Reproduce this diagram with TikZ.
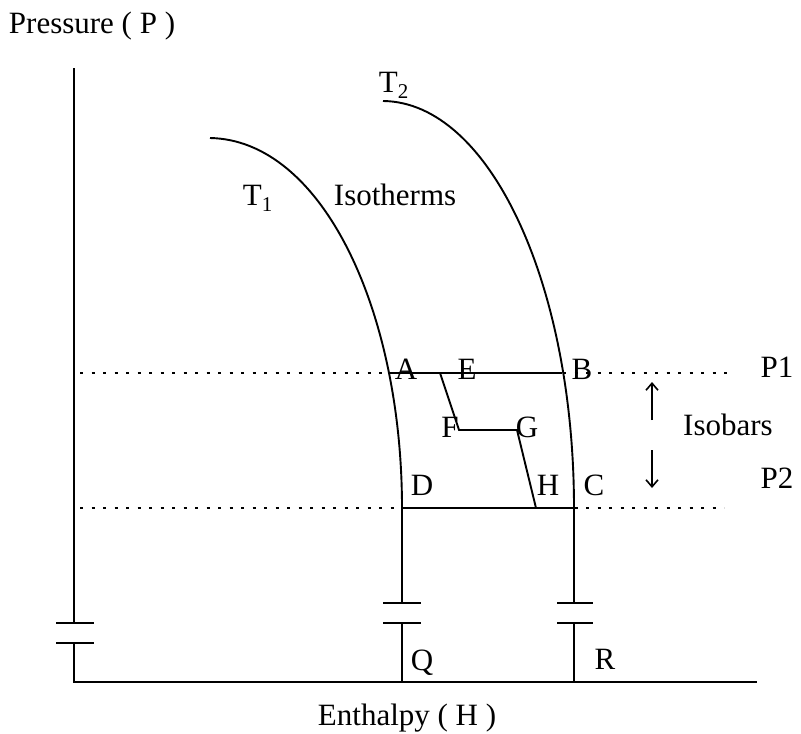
\documentclass[tikz,border=0pt]{standalone}
\usepackage{fontspec}
\setmainfont{Liberation Serif}
\usetikzlibrary{arrows.meta}
\begin{document}
\begin{tikzpicture}[x=1pt,y=-1pt,line width=1.9pt,
  lbl/.style={font=\fontsize{31}{34}\selectfont, inner sep=0pt, anchor=base},
  lblw/.style={font=\fontsize{31}{34}\selectfont, inner sep=0pt, anchor=base west},
  dots/.style={line width=1.9pt, dash pattern=on 3pt off 8.5pt},
  barline/.style={line width=1.9pt},
  arr/.style={-{Straight Barb[length=7pt,width=12pt,line width=1.6pt]}, line width=1.8pt}]
\useasboundingbox (0,0) rectangle (801,734);
% axis coordinates
\coordinate (Ytop) at (74,68);
\coordinate (Yb1) at (74,623);
\coordinate (Yb2) at (74,643);
\coordinate (O) at (74,682);
\coordinate (Xend) at (757,682);
% isotherm T1
\coordinate (T1s) at (210,138);
\coordinate (A) at (388,373);
\coordinate (D) at (402,508);
\coordinate (Qb1) at (402,603);
\coordinate (Qb2) at (402,623);
\coordinate (Q0) at (402,682);
% isotherm T2
\coordinate (T2s) at (383,101);
\coordinate (B) at (562,373);
\coordinate (C) at (574,508);
\coordinate (Rb1) at (574,603);
\coordinate (Rb2) at (574,623);
\coordinate (R0) at (574,682);
% path points
\coordinate (E) at (440,373);
\coordinate (F) at (459,430);
\coordinate (G) at (517,430);
\coordinate (H) at (536,508);
% isobar ends
\coordinate (P1s) at (80,373);
\coordinate (P1e) at (730,373);
\coordinate (P2s) at (80,508);
\coordinate (P2e) at (724,508);
% arrows
\coordinate (Au1) at (652,420);
\coordinate (Au2) at (652,382);
\coordinate (Ad1) at (652,450);
\coordinate (Ad2) at (652,488);

% axes
\draw (Ytop) -- (Yb1);
\draw (Yb2) -- (O) -- (Xend);
\draw[barline] ([xshift=-18pt]Yb1) -- ([xshift=20pt]Yb1);
\draw[barline] ([xshift=-18pt]Yb2) -- ([xshift=20pt]Yb2);

% isobars (dotted)
\draw[dots] (P1s) -- (P1e);
\draw[dots] (P2s) -- (P2e);

% isotherms
\draw (T1s) .. controls (322,140) and (402,310) .. (D) -- (Qb1);
\draw (Qb2) -- (Q0);
\draw[barline] ([xshift=-19pt]Qb1) -- ([xshift=19pt]Qb1);
\draw[barline] ([xshift=-19pt]Qb2) -- ([xshift=19pt]Qb2);
\draw (T2s) .. controls (490,102) and (574,285) .. (C) -- (Rb1);
\draw (Rb2) -- (R0);
\draw[barline] ([xshift=-17pt]Rb1) -- ([xshift=19pt]Rb1);
\draw[barline] ([xshift=-17pt]Rb2) -- ([xshift=19pt]Rb2);

% solid isobar segments and path
\draw (A) -- (B);
\draw (D) -- (C);
\draw (E) -- (F) -- (G) -- (H);

% arrows
\draw[arr] (Au1) -- (Au2);
\draw[arr] (Ad1) -- (Ad2);

% labels
\node[lblw] (lP) at (8,33) {Pressure ( P )};
\node[lblw] (lH) at (317,725) {Enthalpy ( H )};
\node[lblw] (lT2) at (378,92) {T\raisebox{-0.45ex}{\fontsize{21}{21}\selectfont 2}};
\node[lblw] (lT1) at (242,205) {T\raisebox{-0.45ex}{\fontsize{21}{21}\selectfont 1}};
\node[lblw] (lIso) at (333,205) {Isotherms};
\node[lbl] (lA) at (406,379) {A};
\node[lbl] (lE) at (467,379) {E};
\node[lbl] (lB) at (582,379) {B};
\node[lbl] (lF) at (450,437) {F};
\node[lbl] (lG) at (527,437) {G};
\node[lbl] (lD) at (422,495) {D};
\node[lbl] (lHp) at (548,495) {H};
\node[lbl] (lC) at (594,495) {C};
\node[lbl] (lQ) at (422,670) {Q};
\node[lbl] (lR) at (605,669) {R};
\node[lbl] (lP1) at (777,377) {P1};
\node[lbl] (lP2) at (777,488) {P2};
\node[lbl] (lIsob) at (728,435) {Isobars};
\end{tikzpicture}
\end{document}
